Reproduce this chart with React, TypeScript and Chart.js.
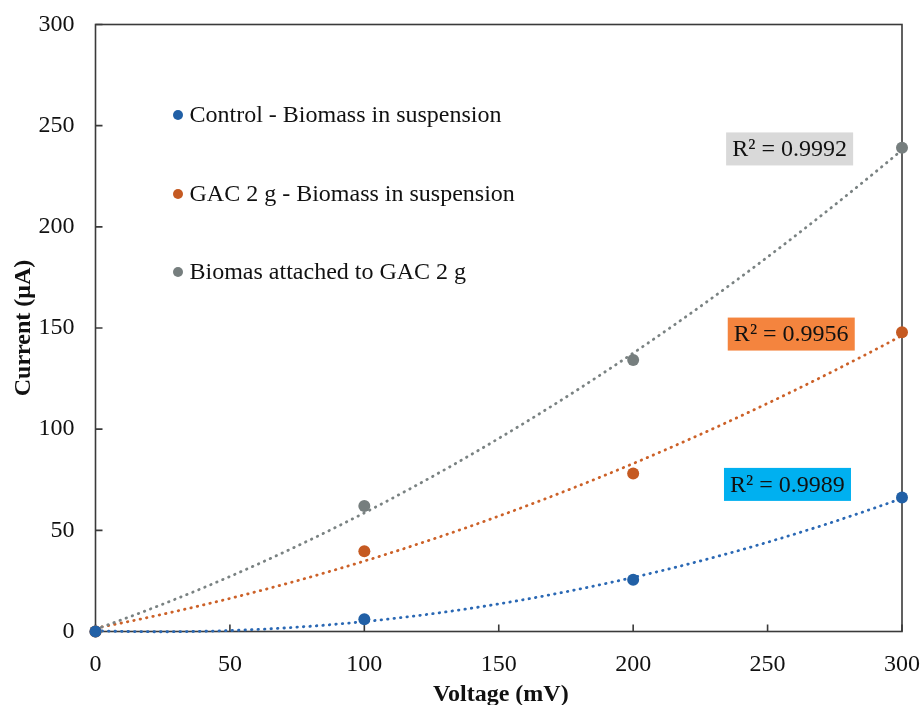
import { useEffect, useRef } from 'react';
import { Chart, registerables } from 'chart.js';

Chart.register(...registerables);

// ---- data ----
const voltages = [0, 100, 200, 300];
const controlCurrent = [0, 6.0, 25.6, 66.2];
const gacCurrent = [0, 39.7, 78.1, 147.9];
const attachedCurrent = [0, 62.0, 134.2, 239.1];
const seriesLabels = [
  'Control - Biomass in suspension',
  'GAC 2 g - Biomass in suspension',
  'Biomas attached to GAC 2 g',
];
const r2Labels = ['R² = 0.9989', 'R² = 0.9956', 'R² = 0.9992'];
// anchor (data coords) of each R² label box centre
const r2AnchorX = [257.4, 258.8, 258.2];
const r2AnchorY = [72.7, 147.0, 238.5];
const xTickValues = [0, 50, 100, 150, 200, 250, 300];
const yTickValues = [0, 50, 100, 150, 200, 250, 300];

// ---- styles ----
const pointColors = ['#2160a6', '#c55a22', '#767e7e'];
const lineColors = ['#2a68b4', '#cc6128', '#7a8282'];
const boxColors = ['#00b0f0', '#f4843e', '#d9d9d9'];
const FONT = "'Liberation Serif', 'Times New Roman', serif";
const TEXT = '#111111';
const AXIS = '#3a3a3a';

function quadFit(xs: number[], ys: number[]) {
  let s0 = 0, s1 = 0, s2 = 0, s3 = 0, s4 = 0, t0 = 0, t1 = 0, t2 = 0;
  for (let i = 0; i < xs.length; i++) {
    const x = xs[i], y = ys[i];
    s0 += 1; s1 += x; s2 += x * x; s3 += x * x * x; s4 += x * x * x * x;
    t0 += y; t1 += x * y; t2 += x * x * y;
  }
  const det = (m: number[][]) =>
    m[0][0] * (m[1][1] * m[2][2] - m[1][2] * m[2][1]) -
    m[0][1] * (m[1][0] * m[2][2] - m[1][2] * m[2][0]) +
    m[0][2] * (m[1][0] * m[2][1] - m[1][1] * m[2][0]);
  const A = [[s4, s3, s2], [s3, s2, s1], [s2, s1, s0]];
  const B = [t2, t1, t0];
  const D = det(A);
  const col = (k: number) => A.map((row, r) => row.map((v, c) => (c === k ? B[r] : v)));
  const a = det(col(0)) / D, b = det(col(1)) / D, c = det(col(2)) / D;
  return (x: number) => a * x * x + b * x + c;
}

const decorPlugin = {
  id: 'decor',
  beforeDatasetsDraw(chart: any) {
    const { ctx, chartArea: ca, scales } = chart;
    const xs = scales.x, ys = scales.y;
    ctx.save();
    // frame
    ctx.strokeStyle = AXIS;
    ctx.lineWidth = 1.6;
    ctx.strokeRect(ca.left, ca.top, ca.right - ca.left, ca.bottom - ca.top);
    // inward ticks
    ctx.beginPath();
    xTickValues.forEach((v) => {
      const p = xs.getPixelForValue(v);
      ctx.moveTo(p, ca.bottom);
      ctx.lineTo(p, ca.bottom - 7);
    });
    yTickValues.forEach((v) => {
      const p = ys.getPixelForValue(v);
      ctx.moveTo(ca.left, p);
      ctx.lineTo(ca.left + 7, p);
    });
    ctx.stroke();
    // trend lines (least-squares quadratic of each series)
    chart.data.datasets.forEach((ds: any, i: number) => {
      const px = ds.data.map((d: any) => d.x);
      const py = ds.data.map((d: any) => d.y);
      const f = quadFit(px, py);
      const xmin = Math.min(...px), xmax = Math.max(...px);
      ctx.beginPath();
      for (let x = xmin; x <= xmax + 1e-9; x += 2) {
        const X = xs.getPixelForValue(x), Y = ys.getPixelForValue(f(x));
        if (x === xmin) ctx.moveTo(X, Y); else ctx.lineTo(X, Y);
      }
      ctx.strokeStyle = lineColors[i];
      ctx.lineWidth = 2.8;
      ctx.lineCap = 'round';
      ctx.setLineDash([0.5, 6.0]);
      ctx.stroke();
    });
    ctx.restore();
  },
  afterDatasetsDraw(chart: any) {
    const { ctx, chartArea: ca, scales } = chart;
    const xs = scales.x, ys = scales.y;
    ctx.save();
    // legend
    ctx.font = `24px ${FONT}`;
    ctx.textBaseline = 'alphabetic';
    ctx.textAlign = 'left';
    const legendBase = [122, 201, 279];
    seriesLabels.forEach((lab, i) => {
      ctx.fillStyle = pointColors[i];
      ctx.beginPath();
      ctx.arc(ca.left + 82.5, legendBase[i] - 7, 5, 0, Math.PI * 2);
      ctx.fill();
      ctx.fillStyle = TEXT;
      ctx.fillText(lab, ca.left + 94, legendBase[i]);
    });
    // R² boxes
    ctx.font = `24px ${FONT}`;
    ctx.textAlign = 'center';
    ctx.textBaseline = 'middle';
    r2Labels.forEach((lab, i) => {
      const cx = xs.getPixelForValue(r2AnchorX[i]);
      const cy = ys.getPixelForValue(r2AnchorY[i]);
      const w = 127, h = 33;
      ctx.fillStyle = boxColors[i];
      ctx.fillRect(cx - w / 2, cy - h / 2, w, h);
      ctx.fillStyle = TEXT;
      ctx.fillText(lab, cx, cy + 1);
    });
    // axis titles
    ctx.font = `bold 24px ${FONT}`;
    ctx.textAlign = 'center';
    ctx.textBaseline = 'alphabetic';
    ctx.fillText('Voltage (mV)', (ca.left + ca.right) / 2 + 2, 701);
    ctx.translate(30, (ca.top + ca.bottom) / 2);
    ctx.rotate(-Math.PI / 2);
    ctx.fillText('Current (μA)', 0, 0);
    ctx.restore();
  },
};

export default function App() {
  const ref = useRef<HTMLCanvasElement>(null);
  useEffect(() => {
    document.body.style.margin = '0';
    const cv = ref.current!;
    const mk = (ys: number[]) => voltages.map((x, i) => ({ x, y: ys[i] }));
    const chart = new Chart(cv, {
      type: 'scatter',
      data: {
        datasets: [controlCurrent, gacCurrent, attachedCurrent].map((vals, i) => ({
          label: seriesLabels[i],
          data: mk(vals),
          backgroundColor: pointColors[i],
          borderColor: pointColors[i],
          pointRadius: 6,
          pointHoverRadius: 6,
          borderWidth: 0,
          showLine: false,
          clip: false as any,
        })),
      },
      options: {
        animation: false,
        responsive: false,
        events: [],
        layout: { padding: { top: 24.5, right: 19, left: 0, bottom: 0 } },
        plugins: { legend: { display: false }, tooltip: { enabled: false }, title: { display: false } },
        scales: {
          x: {
            type: 'linear',
            min: 0,
            max: 300,
            afterFit: (s: any) => {
              s.height = 73.5;
              s.paddingLeft = 0; s.paddingRight = 0; s.paddingTop = 0; s.paddingBottom = 0;
            },
            afterBuildTicks: (s: any) => { s.ticks = xTickValues.map((v) => ({ value: v })); },
            grid: { display: false, drawTicks: false },
            border: { display: false },
            ticks: { font: { family: FONT, size: 24 }, color: TEXT, padding: 19, maxRotation: 0 },
          },
          y: {
            type: 'linear',
            min: 0,
            max: 300,
            afterFit: (s: any) => {
              s.width = 95.5;
              s.paddingLeft = 0; s.paddingRight = 0; s.paddingTop = 0; s.paddingBottom = 0;
            },
            afterBuildTicks: (s: any) => { s.ticks = yTickValues.map((v) => ({ value: v })); },
            grid: { display: false, drawTicks: false },
            border: { display: false },
            ticks: { font: { family: FONT, size: 24 }, color: TEXT, padding: 21 },
          },
        },
      },
      plugins: [decorPlugin],
    });
    return () => chart.destroy();
  }, []);
  return <canvas ref={ref} width={921} height={705} style={{ display: 'block', width: 921, height: 705 }} />;
}
